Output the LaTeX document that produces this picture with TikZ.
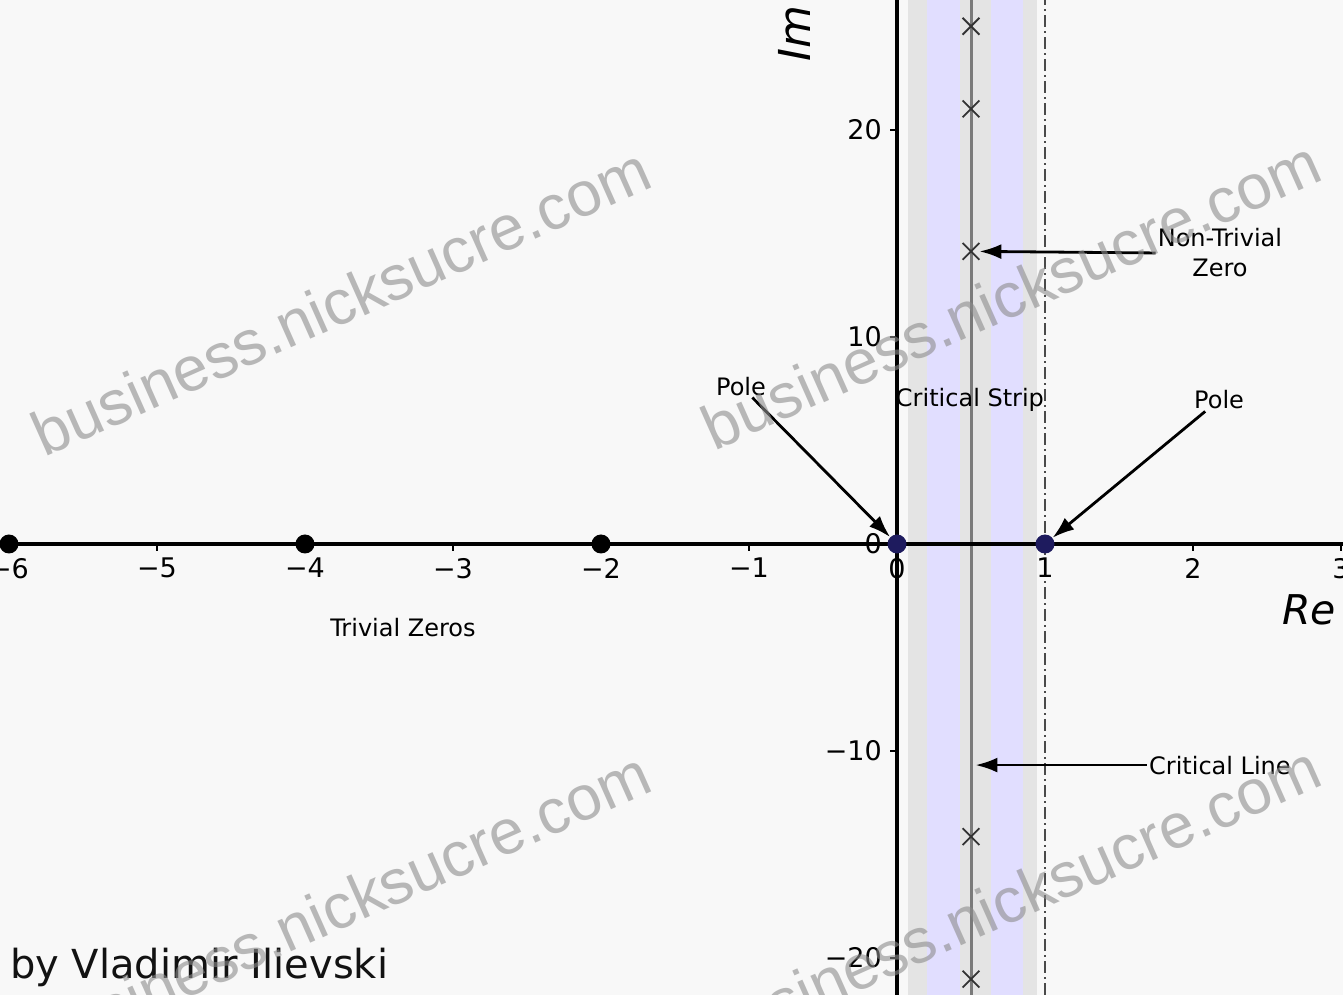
\documentclass[tikz,border=0pt]{standalone}
\usepackage{fontspec}
\setmainfont{DejaVu Sans}
\newfontfamily\wmfont{Liberation Sans}
\usetikzlibrary{arrows.meta,shapes.misc}
\definecolor{bg}{HTML}{F8F8F8}
\definecolor{stripgray}{HTML}{E4E4E4}
\definecolor{lav}{HTML}{E1DEFF}
\definecolor{navy}{HTML}{1E1B5E}
\definecolor{wm}{HTML}{8C8C8C}
\definecolor{critline}{HTML}{7A7A7A}
\definecolor{dashcol}{HTML}{4A4A4A}
\definecolor{xcol}{HTML}{333333}
\begin{document}
\begin{tikzpicture}[x=148pt,y=20.7pt,
  ticklab/.style={font=\fontsize{27}{30}\selectfont, inner sep=0pt},
  ann/.style={font=\fontsize{24}{30}\selectfont, inner sep=2pt, align=center},
  zdot/.style={circle,fill=black,minimum size=19pt,inner sep=0pt},
  pdot/.style={circle,fill=navy,minimum size=19pt,inner sep=0pt},
  xmark/.style={cross out,draw=xcol,line width=1.8pt,minimum size=15pt,inner sep=0pt},
  arr/.style={-{Latex[length=22pt,width=15pt]},line width=2.8pt,black},
  axisline/.style={line width=3.2pt,black},
  wmark/.style={font=\wmfont\fontsize{63}{70}\selectfont, text=wm, text opacity=0.6, rotate=24, anchor=base, inner sep=0pt}
]
\useasboundingbox (-6.0608,-21.787) rectangle (3.0135,26.280);
\clip (-6.0608,-21.787) rectangle (3.0135,26.280);
\fill[bg] (-6.0608,-21.787) rectangle (3.0135,26.280);

% critical strip
\fill[stripgray] (0.074,-21.787) rectangle (0.946,26.280);
\fill[lav] (0.203,-21.787) rectangle (0.426,26.280);
\fill[lav] (0.632,-21.787) rectangle (0.851,26.280);

% critical line and Re=1 line
\draw[critline,line width=3pt] (0.5,-21.787) -- (0.5,26.280);
\draw[dashcol,line width=2.8pt,dash pattern=on 12pt off 4pt on 2pt off 4pt] (1,-21.787) -- (1,26.280);

% axes
\draw[axisline] (-6.0608,0) -- (3.0135,0);
\draw[axisline] (0,-21.787) -- (0,26.280);

% ticks
\foreach \k in {-6,-5,-4,-3,-2,-1,0,1,2,3}
  \draw[line width=1.5pt] (\k,0) -- ++(0,-7pt);
\foreach \v in {-20,-10,0,10,20}
  \draw[line width=1.5pt] (0,\v) -- ++(-7pt,0);

% tick labels
\foreach \k/\t in {-6/{\char"2212 6},-5/{\char"2212 5},-4/{\char"2212 4},-3/{\char"2212 3},-2/{\char"2212 2},-1/{\char"2212 1},0/0,1/1,2/2,3/3}
  \node[ticklab,anchor=north] (xl\k) at ([yshift=-14pt]\k,0) {\t};
\foreach \v/\t in {-20/{\char"2212 20},-10/{\char"2212 10},0/0,10/10,20/20}
  \node[ticklab,anchor=east] (yl\v) at ([xshift=-15pt]0,\v) {\t};

% axis labels
\node[font=\itshape\fontsize{41}{45}\selectfont, anchor=base west, inner sep=0pt] (re) at (2.6014,-3.9130) {Re};
\node[font=\itshape\fontsize{44}{48}\selectfont, anchor=base west, inner sep=0pt, rotate=90] (im) at (-0.5878,23.285) {Im};

% trivial zeros and poles
\node[zdot] (t6) at (-6,0) {};
\node[zdot] (t4) at (-4,0) {};
\node[zdot] (t2) at (-2,0) {};
\node[pdot] (p0) at (0,0) {};
\node[pdot] (p1) at (1,0) {};

% non-trivial zeros
\node[xmark] (c1) at (0.5,14.1347) {};
\node[xmark] (c2) at (0.5,21.0220) {};
\node[xmark] (c3) at (0.5,25.0109) {};
\node[xmark] (c4) at (0.5,-14.1347) {};
\node[xmark] (c5) at (0.5,-21.0220) {};
\node[xmark] (c6) at (0.5,-25.0109) {};

% annotations
\node[ann] (ntz) at (2.182,14.06) {Non-Trivial\\Zero};
\node[ann] (pole1) at (-1.054,7.63) {Pole};
\node[ann] (pole2) at (2.176,6.96) {Pole};
\node[ann] (cstrip) at (0.493,6.96) {Critical Strip};
\node[ann] (cline) at (2.182,-10.68) {Critical Line};
\node[ann] (tz) at (-3.338,-4.06) {Trivial Zeros};
\coordinate (clpt) at (0.53,-10.68);

\draw[arr] (ntz.west) -- (c1.east);
\draw[arr] (pole1) -- (p0);
\draw[arr] (pole2) -- (p1);
\draw[arr] (cline.west) -- (clpt);

% credit
\node[font=\fontsize{40}{44}\selectfont, text=black!93, anchor=base west, inner sep=0pt] (by) at (-5.993,-20.966) {by Vladimir Ilievski};

% watermarks
\node[wmark] (w1) at (-3.696,10.725) {business.nicksucre.com};
\node[wmark] (w2) at (0.831,11.06) {business.nicksucre.com};
\node[wmark] (w3) at (-3.696,-18.45) {business.nicksucre.com};
\node[wmark] (w4) at (0.831,-18.15) {business.nicksucre.com};
\end{tikzpicture}
\end{document}
